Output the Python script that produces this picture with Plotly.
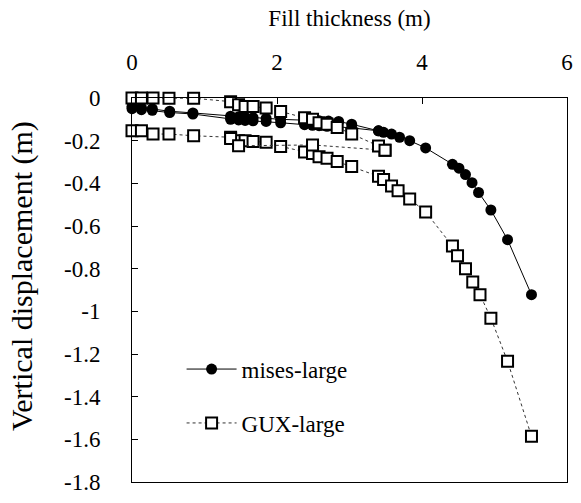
import plotly.graph_objects as go

# ---- data ----
mises1_x = [0.0, 0.13, 0.28, 0.52, 0.84, 1.36, 1.47, 1.56, 1.67, 1.85, 2.05, 2.38, 2.49, 2.58, 2.71, 2.85,
            3.03, 3.40, 3.47, 3.58, 3.69, 3.83, 4.05, 4.42, 4.51, 4.60, 4.69, 4.78, 4.95, 5.18, 5.51]
mises1_y = [-0.04, -0.045, -0.05, -0.062, -0.07, -0.085, -0.088, -0.09, -0.092, -0.095, -0.1, -0.104, -0.106,
            -0.107, -0.108, -0.11, -0.123, -0.154, -0.161, -0.169, -0.184, -0.2, -0.234, -0.311, -0.329,
            -0.359, -0.397, -0.443, -0.525, -0.664, -0.922]

mises2_x = [0.0, 0.13, 0.28, 0.52, 0.84, 1.36, 1.47, 1.56, 1.67, 1.85, 2.05, 2.38, 2.49, 2.58, 2.69, 2.83,
            3.03, 3.40]
mises2_y = [-0.05, -0.055, -0.058, -0.068, -0.075, -0.1, -0.103, -0.105, -0.107, -0.11, -0.116, -0.125,
            -0.128, -0.13, -0.133, -0.137, -0.14, -0.154]

gux1_x = [0.0, 0.13, 0.29, 0.51, 0.85, 1.36, 1.47, 1.56, 1.67, 1.85, 2.05, 2.38, 2.49, 2.58, 2.69, 2.83,
          3.03, 3.40, 3.49]
gux1_y = [0.0, 0.0, 0.0, -0.001, -0.001, -0.017, -0.032, -0.04, -0.04, -0.047, -0.063, -0.093, -0.1,
          -0.116, -0.123, -0.138, -0.169, -0.225, -0.245]

gux2_x = [1.36, 1.47, 2.49, 3.49]
gux2_y = [-0.19, -0.224, -0.22, -0.245]

gux3_x = [0.0, 0.13, 0.29, 0.51, 0.85, 1.36, 1.47, 1.56, 1.67, 1.85, 2.05, 2.38, 2.49, 2.58, 2.69, 2.83,
          3.03, 3.40, 3.47, 3.58, 3.67, 3.83, 4.05, 4.42, 4.49, 4.60, 4.70, 4.80, 4.95, 5.18, 5.51]
gux3_y = [-0.154, -0.154, -0.169, -0.169, -0.177, -0.184, -0.2, -0.2, -0.204, -0.207, -0.227, -0.253, -0.26,
          -0.275, -0.283, -0.298, -0.321, -0.367, -0.382, -0.412, -0.435, -0.473, -0.534, -0.694, -0.74,
          -0.8, -0.862, -0.922, -1.032, -1.234, -1.585]

x_tick_vals = [0, 2, 4, 6]
x_tick_text = ["0", "2", "4", "6"]
y_tick_vals = [0, -0.2, -0.4, -0.6, -0.8, -1.0, -1.2, -1.4, -1.6, -1.8]
y_tick_text = ["0", "-0.2", "-0.4", "-0.6", "-0.8", "-1", "-1.2", "-1.4", "-1.6", "-1.8"]

FONT = "Liberation Serif, Times New Roman, serif"

fig = go.Figure()

mises_style = dict(mode="lines+markers", line=dict(color="black", width=1),
                   marker=dict(symbol="circle", size=11, color="black"),
                   cliponaxis=False, legendgroup="mises", name="mises-large")
gux_style = dict(mode="lines+markers", line=dict(color="#333333", width=1, dash="dot"),
                 marker=dict(symbol="square", size=11, color="white",
                             line=dict(color="black", width=2)),
                 cliponaxis=False, legendgroup="gux", name="GUX-large")

fig.add_trace(go.Scatter(x=mises2_x, y=mises2_y, showlegend=False, **mises_style))
fig.add_trace(go.Scatter(x=mises1_x, y=mises1_y, showlegend=True, **mises_style))
fig.add_trace(go.Scatter(x=gux3_x, y=gux3_y, showlegend=True, **gux_style))
fig.add_trace(go.Scatter(x=gux2_x, y=gux2_y, showlegend=False, **gux_style))
fig.add_trace(go.Scatter(x=gux1_x, y=gux1_y, showlegend=False, **gux_style))

fig.update_layout(
    width=581, height=503,
    margin=dict(l=132, r=8, t=98, b=14),
    paper_bgcolor="white", plot_bgcolor="white",
    font=dict(family=FONT, size=23, color="black"),
    legend=dict(x=0.114, y=0.35, xanchor="left", yanchor="top", itemwidth=50,
                bgcolor="rgba(0,0,0,0)", traceorder="grouped", tracegroupgap=21,
                font=dict(size=23)),
    xaxis=dict(side="top", range=[0, 6], tickvals=x_tick_vals, ticktext=x_tick_text,
               ticks="inside", ticklen=6, tickcolor="black", showline=True, linecolor="black",
               linewidth=1, mirror=True, showgrid=False, zeroline=False,
               ticklabelstandoff=18, tickfont=dict(size=23),
               title=dict(text="Fill thickness (m)", standoff=16, font=dict(size=23))),
    yaxis=dict(range=[-1.8, 0], tickvals=y_tick_vals, ticktext=y_tick_text,
               ticks="inside", ticklen=6, tickcolor="black", showline=True, linecolor="black",
               linewidth=1, mirror=True, showgrid=False, zeroline=False,
               ticklabelstandoff=26, tickfont=dict(size=23)),
    annotations=[dict(text="Vertical displacement (m)", textangle=-90, showarrow=False,
                      xref="paper", yref="paper", x=-0.254, y=0.535,
                      xanchor="center", yanchor="middle", font=dict(size=30))],
)

fig.write_html("out.html")
